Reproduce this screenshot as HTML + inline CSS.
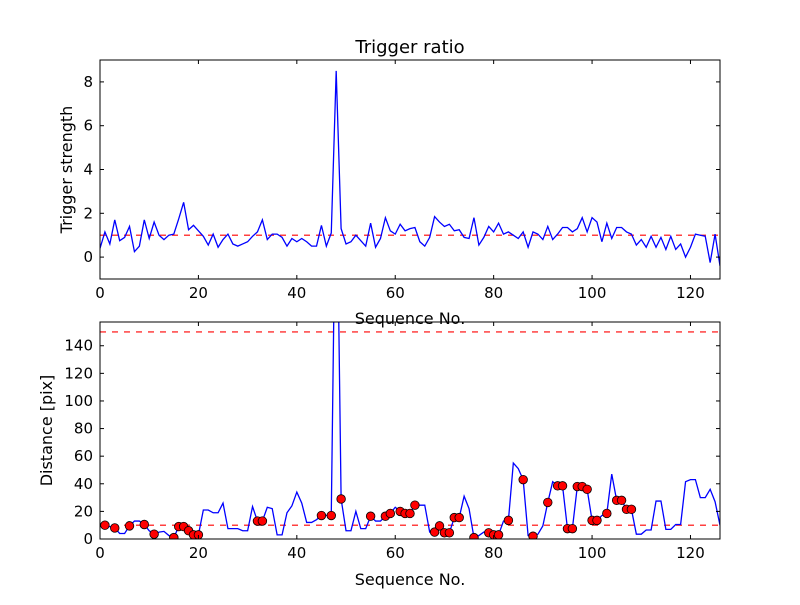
<!DOCTYPE html>
<html><head><meta charset="utf-8"><style>
body{margin:0;background:#fff;width:800px;height:600px;overflow:hidden}
text{font-family:"DejaVu Sans","Liberation Sans",sans-serif;fill:#000}
</style></head><body>
<svg id="chart" width="800" height="600" viewBox="0 0 800 600">
<rect width="800" height="600" fill="#fff"/>
<text x="410" y="53" text-anchor="middle" font-size="18">Trigger ratio</text>
</svg>
<script>
const strength = [0.4,1.15,0.6,1.7,0.75,0.9,1.4,0.25,0.5,1.7,0.85,1.6,1.0,0.8,1.0,1.05,1.75,2.5,1.25,1.45,1.2,0.95,0.55,1.05,0.45,0.8,1.05,0.6,0.5,0.6,0.7,0.95,1.15,1.7,0.8,1.05,1.05,0.9,0.5,0.85,0.7,0.85,0.7,0.5,0.5,1.45,0.5,1.1,8.5,1.3,0.6,0.7,1.0,0.75,0.5,1.55,0.45,0.85,1.8,1.2,1.05,1.5,1.2,1.3,1.35,0.7,0.5,0.9,1.85,1.6,1.4,1.5,1.2,1.25,0.9,0.85,1.8,0.55,0.9,1.4,1.15,1.55,1.05,1.15,1.0,0.85,1.15,0.45,1.15,1.05,0.8,1.4,0.8,1.05,1.35,1.35,1.15,1.3,1.8,1.15,1.8,1.6,0.7,1.55,0.85,1.35,1.35,1.15,1.05,0.55,0.8,0.45,0.95,0.45,0.9,0.35,0.95,0.35,0.6,0.0,0.45,1.05,1.0,0.95,-0.25,1.05,-0.4];
const distance = [10,10,9,8,4,4,9.5,13,13,10.5,6,3.5,5,5.5,2.5,1,9,9,6,3,3,21,21,19,19,26,7.5,7.5,7.5,6,6,23.5,13,13,23,22,3,3,19,24,34,26,12,12,14,17,17,17,300,29,6,6,20,7.5,7.5,16.5,13,13,16.5,18.5,23,20,18.5,18.5,24.5,24.5,24.5,5,5,9.5,4.5,4.5,15.5,15.5,31,22,1,2.5,5,4.5,3,3,13,13.5,55,51,43,2.5,2,3.5,9.5,26.5,41.5,38.5,38.5,7.5,7.5,38,38,36,13.5,13.5,17,18.5,47,28,28,21.5,21.5,3.5,3.5,6.5,6.5,27.5,27.5,7,7,10.5,10.5,41.5,43,43,30,30,36,27,10];
const markerIdx = [1,3,6,9,11,15,16,17,18,19,20,32,33,45,47,49,55,58,59,61,62,63,64,68,69,70,71,72,73,76,79,80,81,83,86,88,91,93,94,95,96,97,98,99,100,101,103,105,106,107,108];
const xTicks = [0,20,40,60,80,100,120];
const topYTicks = [0,2,4,6,8];
const botYTicks = [0,20,40,60,80,100,120,140];
const topThreshold = [1];
const botThresholds = [10,150];

const NS="http://www.w3.org/2000/svg";
const svg=document.getElementById('chart');
function el(tag,attrs,parent){const e=document.createElementNS(NS,tag);for(const k in attrs)e.setAttribute(k,attrs[k]);(parent||svg).appendChild(e);return e;}

function panel(cfg){
  const {x0,x1,y0,y1,ymin,ymax,name}=cfg;
  const sx=v=>x0+(v-0)/(126-0)*(x1-x0);
  const sy=v=>y1-(v-ymin)/(ymax-ymin)*(y1-y0);
  const g=el('g',{});
  
  
  const cid='clip-'+name;
  const cp=el('clipPath',{id:cid},g);el('rect',{x:x0,y:y0,width:x1-x0,height:y1-y0},cp);
  const plot=el('g',{'clip-path':`url(#${cid})`},g);
  cfg.thresholds.forEach(t=>{
    const l=el('line',{x1:x0,x2:x1,y1:sy(t),y2:sy(t),stroke:'#ff0000','stroke-width':1.2,'stroke-dasharray':'6,6'},plot);
    
    
  });
  const pts=cfg.values.map((v,i)=>sx(i).toFixed(2)+','+sy(v).toFixed(2)).join(' ');
  const pl=el('polyline',{points:pts,fill:'none',stroke:'#0000ff','stroke-width':1.3},plot);
  
  
  (cfg.markers||[]).forEach(i=>{
    const c=el('circle',{cx:sx(i),cy:sy(cfg.values[i]),r:4.3,fill:'#ff0000',stroke:'#000','stroke-width':0.8},plot);
    
    
  });
  el('rect',{x:x0,y:y0,width:x1-x0,height:y1-y0,fill:'none',stroke:'#000','stroke-width':1},g);
  xTicks.forEach(t=>{
    const X=sx(t);
    el('line',{x1:X,x2:X,y1:y1,y2:y1-4,stroke:'#000'},g);
    el('line',{x1:X,x2:X,y1:y0,y2:y0+4,stroke:'#000'},g);
    const tx=el('text',{x:X,y:y1+19,'text-anchor':'middle','font-size':15},g);tx.textContent=t;
    
    
  });
  cfg.yTicks.forEach(t=>{
    const Y=sy(t);
    el('line',{x1:x0,x2:x0+4,y1:Y,y2:Y,stroke:'#000'},g);
    el('line',{x1:x1,x2:x1-4,y1:Y,y2:Y,stroke:'#000'},g);
    const ty=el('text',{x:x0-7,y:Y+5,'text-anchor':'end','font-size':15},g);ty.textContent=t;
    
    
  });
  const xl=el('text',{x:(x0+x1)/2,y:cfg.xlabelY,'text-anchor':'middle','font-size':16},g);xl.textContent='Sequence No.';
  
  
  const yx=cfg.ylabelX, yy=(y0+y1)/2;
  const yl=el('text',{x:yx,y:yy,'text-anchor':'middle','font-size':16,transform:`rotate(-90 ${yx} ${yy})`},g);yl.textContent=cfg.ylabel;
  
  
}
panel({name:'trigger-panel',x0:100,x1:720,y0:60,y1:279,ymin:-1,ymax:9,values:strength,thresholds:topThreshold,yTicks:topYTicks,xlabelY:324,ylabel:'Trigger strength',ylabelX:72});
panel({name:'distance-panel',x0:100,x1:720,y0:322,y1:539,ymin:0,ymax:157.2,values:distance,markers:markerIdx,thresholds:botThresholds,yTicks:botYTicks,xlabelY:585,ylabel:'Distance [pix]',ylabelX:52});
</script>
</body></html>
